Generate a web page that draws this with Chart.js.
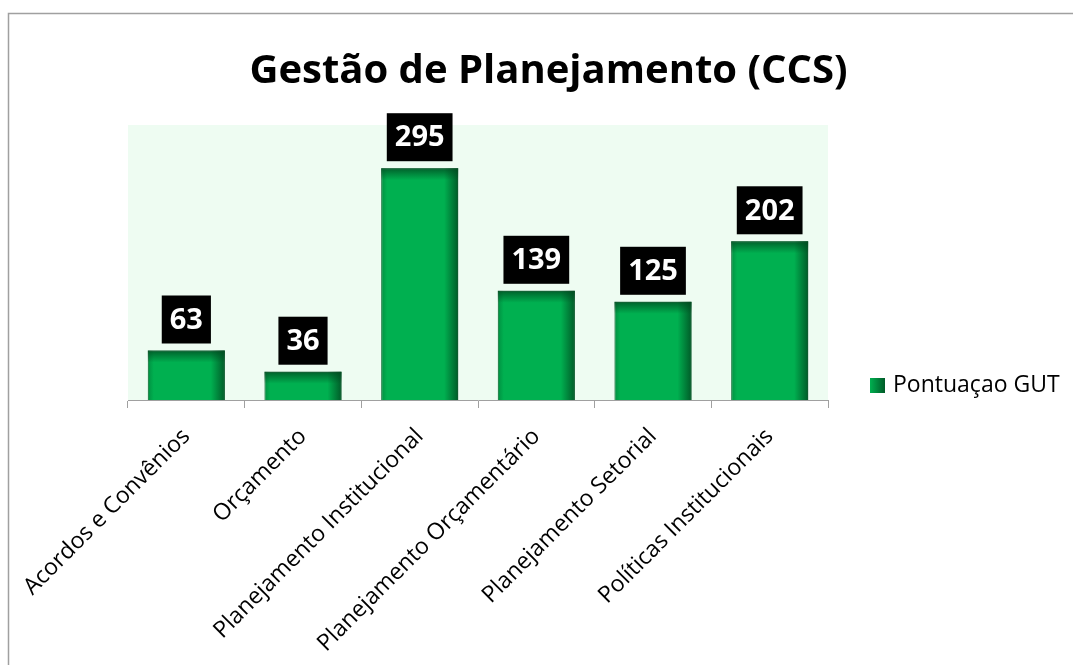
<!DOCTYPE html>
<html>
<head>
<meta charset="utf-8">
<script src="https://cdn.jsdelivr.net/npm/chart.js@4.4.1/dist/chart.umd.min.js"></script>
<style>
  html, body { margin: 0; padding: 0; background: #fff; }
  #wrap { width: 1073px; height: 665px; }
</style>
</head>
<body>
<div id="wrap"><canvas id="chart" width="1073" height="665"></canvas></div>
<script>
// data
const categories = [
  "Acordos e Convênios",
  "Orçamento",
  "Planejamento Institucional",
  "Planejamento Orçamentário",
  "Planejamento Setorial",
  "Políticas Institucionais",
];
const scores = [63, 36, 295, 139, 125, 202];
const seriesName = "Pontuaçao GUT";
const yMax = 350;

const FONT = "'Open Sans', 'Noto Sans', sans-serif";
const GREEN = "#00b050";

// outer frame + light green plot background
const backgroundPlugin = {
  id: "background",
  beforeDraw(chart) {
    const { ctx, chartArea } = chart;
    ctx.save();
    ctx.strokeStyle = "#a0a0a0";
    ctx.lineWidth = 1.5;
    ctx.beginPath();
    ctx.moveTo(8.5, chart.height);
    ctx.lineTo(8.5, 13.5);
    ctx.lineTo(chart.width, 13.5);
    ctx.stroke();
    ctx.fillStyle = "#eefcf2";
    ctx.fillRect(chartArea.left, chartArea.top, chartArea.right - chartArea.left, chartArea.bottom - chartArea.top);
    ctx.restore();
  },
};

// darker edges on each bar, then black value boxes
const barLookPlugin = {
  id: "barLook",
  afterDatasetsDraw(chart) {
    const { ctx } = chart;
    const meta = chart.getDatasetMeta(0);
    ctx.save();
    meta.data.forEach((bar, i) => {
      const { x, y, base, width } = bar.getProps(["x", "y", "base", "width"], true);
      const l = x - width / 2, r = x + width / 2, h = base - y;

      let g = ctx.createLinearGradient(r - 14, 0, r, 0);
      g.addColorStop(0, "rgba(0,70,30,0)");
      g.addColorStop(1, "rgba(0,70,30,0.8)");
      ctx.fillStyle = g;
      ctx.fillRect(r - 14, y, 14, h);

      g = ctx.createLinearGradient(l, 0, l + 6, 0);
      g.addColorStop(0, "rgba(0,70,30,0.3)");
      g.addColorStop(1, "rgba(0,70,30,0)");
      ctx.fillStyle = g;
      ctx.fillRect(l, y, 6, h);

      g = ctx.createLinearGradient(0, y, 0, y + 12);
      g.addColorStop(0, "rgba(0,70,30,0.75)");
      g.addColorStop(1, "rgba(0,70,30,0)");
      ctx.fillStyle = g;
      ctx.fillRect(l, y, width, Math.min(12, h));

      // value label
      const text = String(scores[i]);
      ctx.font = "bold 29px " + FONT;
      const tw = ctx.measureText(text).width;
      const bw = tw + 16, bh = 48;
      const by = y - 7 - bh;
      ctx.fillStyle = "#000";
      ctx.fillRect(x - bw / 2, by, bw, bh);
      ctx.fillStyle = "#fff";
      ctx.textAlign = "center";
      ctx.textBaseline = "middle";
      ctx.fillText(text, x, by + bh / 2 + 1);
    });
    ctx.restore();
  },
};

// legend to the right, near the axis
const legendPlugin = {
  id: "sideLegend",
  afterDraw(chart) {
    const { ctx } = chart;
    const bx = 870, by = 378, s = 15;
    ctx.save();
    const g = ctx.createLinearGradient(bx, 0, bx + s, 0);
    g.addColorStop(0, GREEN);
    g.addColorStop(1, "#005a28");
    ctx.fillStyle = g;
    ctx.fillRect(bx, by, s, s);
    ctx.fillStyle = "#000";
    ctx.font = "23px " + FONT;
    ctx.textBaseline = "middle";
    ctx.textAlign = "left";
    ctx.fillText(seriesName, bx + s + 8, by + s / 2);
    ctx.restore();
  },
};

new Chart(document.getElementById("chart"), {
  type: "bar",
  data: {
    labels: categories,
    datasets: [{
      label: seriesName,
      data: scores,
      backgroundColor: GREEN,
      borderColor: "#1f8a4c",
      borderWidth: 1,
      barPercentage: 0.66,
      categoryPercentage: 1,
    }],
  },
  options: {
    responsive: false,
    animation: false,
    layout: { padding: { left: 24, right: 0, top: 0, bottom: 0 } },
    plugins: {
      legend: { display: false },
      tooltip: { enabled: false },
      title: {
        display: true,
        text: "Gestão de Planejamento (CCS)",
        color: "#000",
        font: { family: FONT, size: 40, weight: "bold", lineHeight: 1.2 },
        padding: { top: 48, bottom: 29 },
      },
    },
    scales: {
      x: {
        grid: { display: true, drawOnChartArea: false, drawTicks: true, tickLength: 8, color: "#a0a0a0", offset: true },
        border: { display: true, color: "#a0a0a0", width: 1 },
        ticks: { color: "#000", font: { family: FONT, size: 23 }, maxRotation: 45, minRotation: 45, autoSkip: false, padding: 15 },
        afterFit(scale) { scale.height = 265; },
      },
      y: {
        min: 0,
        max: yMax,
        grid: { display: false },
        border: { display: false },
        ticks: { display: false },
        afterFit(scale) { scale.width = 104; },
      },
      // empty right-side space that holds the legend
      legendSpace: {
        position: "right",
        display: true,
        grid: { display: false },
        border: { display: false },
        ticks: { display: false },
        afterFit(scale) { scale.width = 245; },
      },
    },
  },
  plugins: [backgroundPlugin, barLookPlugin, legendPlugin],
});
</script>
</body>
</html>
